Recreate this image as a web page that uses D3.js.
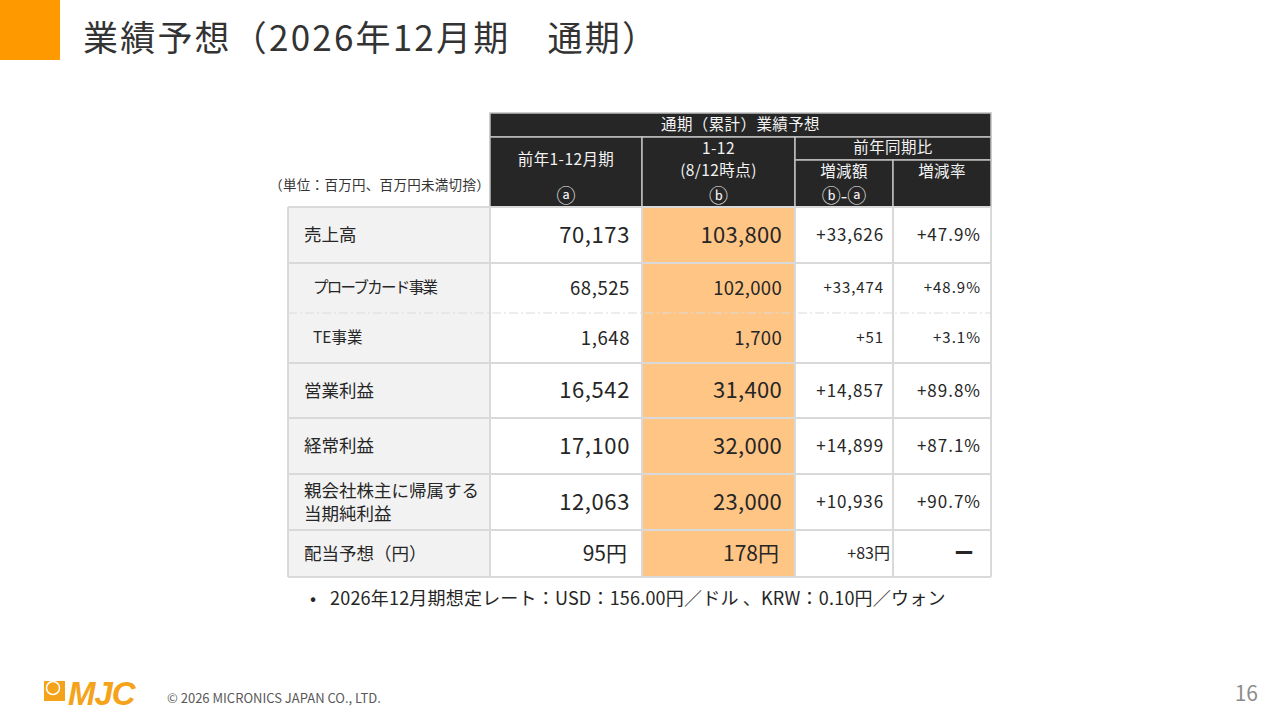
<!DOCTYPE html>
<html lang="ja">
<head>
<meta charset="utf-8">
<script src="https://cdn.jsdelivr.net/npm/d3@7"></script>
<style>
  html, body { margin: 0; padding: 0; background: #fff; }
  svg { display: block; font-family: "Noto Sans CJK JP", "Noto Sans", sans-serif; }
</style>
</head>
<body>
<div class="slide"></div>
<script>
// ---- data ----
const rowLabels = ["売上高", "プローブカード事業", "TE事業", "営業利益", "経常利益", "親会社株主に帰属する\n当期純利益", "配当予想（円）"];
const rowLevel = [0, 1, 1, 0, 0, 0, 0];          // 1 = segment breakdown
const prevYear = [70173, 68525, 1648, 16542, 17100, 12063, 95];
const forecast = [103800, 102000, 1700, 31400, 32000, 23000, 178];
const change = [33626, 33474, 51, 14857, 14899, 10936, 83];
const changeRate = [47.9, 48.9, 3.1, 89.8, 87.1, 90.7, null];
const unitYen = [false, false, false, false, false, false, true];

const title = "業績予想（2026年12月期\u3000通期）";
const unitNote = "（単位：百万円、百万円未満切捨）";
const rateNote = "2026年12月期想定レート：USD：156.00円／ドル 、KRW：0.10円／ウォン";
const copyright = "© 2026 MICRONICS JAPAN CO., LTD.";
const pageNo = "16";

// ---- layout ----
const width = 1280;
const height = 720;
const cols = ["label", "prev", "fcst", "diff", "rate"];
const colX = d3.scaleOrdinal().domain(cols).range([288, 490, 642, 795, 893]);
const colW = d3.scaleOrdinal().domain(cols).range([202, 152, 153, 98, 98]);
const rowWeights = [56, 50, 50, 55, 56, 56, 47];
const cum = [0, ...d3.cumsum(rowWeights)];
const y = d3.scaleLinear().domain([0, d3.sum(rowWeights)]).range([207, 577]);

const orange = "#ff9900";
const grid = "#d9d9d9";
const dark = "#262626";

const svg = d3.select(".slide")
  .append("svg")
  .attr("width", width)
  .attr("height", height);

// title block
svg.append("rect").attr("x", 0).attr("y", 0).attr("width", 60).attr("height", 60).attr("fill", orange);
svg.append("text")
  .attr("x", 83).attr("y", 51)
  .attr("font-size", 35)
  .attr("letter-spacing", 2.2)
  .attr("fill", "#333")
  .text(title);

// ---- header ----
const head = svg.append("g").attr("class", "header");
const hx = k => colX(k);
const hw = k => colW(k);
const headCells = [
  { x: hx("prev"), w: hw("prev") + hw("fcst") + hw("diff") + hw("rate"), y0: 113, y1: 137,
    lines: [{ t: "通期（累計）業績予想", y: 125 }] },
  { x: hx("prev"), w: hw("prev"), y0: 137, y1: 207,
    lines: [{ t: "前年1-12月期", y: 160 }, { t: "ⓐ", y: 196, big: true }] },
  { x: hx("fcst"), w: hw("fcst"), y0: 137, y1: 207,
    lines: [{ t: "1-12", y: 149 }, { t: "(8/12時点)", y: 171 }, { t: "ⓑ", y: 196, big: true }] },
  { x: hx("diff"), w: hw("diff") + hw("rate"), y0: 137, y1: 160,
    lines: [{ t: "前年同期比", y: 148 }] },
  { x: hx("diff"), w: hw("diff"), y0: 160, y1: 207,
    lines: [{ t: "増減額", y: 172 }, { t: "ⓑ-ⓐ", y: 196, big: true }] },
  { x: hx("rate"), w: hw("rate"), y0: 160, y1: 207,
    lines: [{ t: "増減率", y: 172 }] }
];

head.selectAll("rect")
  .data(headCells)
  .enter().append("rect")
  .attr("x", d => d.x).attr("y", d => d.y0)
  .attr("width", d => d.w).attr("height", d => d.y1 - d.y0)
  .attr("fill", dark)
  .attr("stroke", "#bfbfbf")
  .attr("stroke-width", 1.5);

head.selectAll("g.hc")
  .data(headCells)
  .enter().append("g").attr("class", "hc")
  .each(function(d) {
    d3.select(this).selectAll("text")
      .data(d.lines)
      .enter().append("text")
      .attr("x", d.x + d.w / 2)
      .attr("y", l => l.y)
      .attr("dy", "0.35em")
      .attr("text-anchor", "middle")
      .attr("font-size", l => (l.big ? 19 : 15.5))
      .attr("letter-spacing", l => (l.big ? 0 : 0.4))
      .attr("fill", "#f2f2f2")
      .text(l => l.t);
  });

svg.append("text")
  .attr("x", 490).attr("y", 185)
  .attr("dy", "0.35em")
  .attr("text-anchor", "end")
  .attr("font-size", 13.5)
  .attr("letter-spacing", 0.3)
  .attr("fill", "#333")
  .text(unitNote);

// ---- body ----
const body = svg.append("g").attr("class", "body");
const rows = rowLabels.map((label, i) => ({
  label, i, level: rowLevel[i],
  y0: y(cum[i]), y1: y(cum[i + 1]),
  prev: prevYear[i], fcst: forecast[i], diff: change[i], rate: changeRate[i], yen: unitYen[i]
}));

const fill = { label: "#f2f2f2", prev: "#fff", fcst: "#ffc585", diff: "#fff", rate: "#fff" };

rows.forEach(r => {
  const g = body.append("g");
  g.selectAll("rect")
    .data(cols)
    .enter().append("rect")
    .attr("x", k => colX(k)).attr("y", r.y0)
    .attr("width", k => colW(k)).attr("height", r.y1 - r.y0)
    .attr("fill", k => fill[k]);
});

// grid lines
const vEdges = [...cols.map(k => colX(k)), colX("rate") + colW("rate")];
body.selectAll("line.v")
  .data(vEdges)
  .enter().append("line").attr("class", "v")
  .attr("x1", d => d).attr("x2", d => d)
  .attr("y1", y(0)).attr("y2", y(cum[cum.length - 1]))
  .attr("stroke", grid).attr("stroke-width", 2);

body.selectAll("line.h")
  .data(cum)
  .enter().append("line").attr("class", "h")
  .attr("x1", vEdges[0]).attr("x2", vEdges[vEdges.length - 1])
  .attr("y1", d => y(d)).attr("y2", d => y(d))
  .attr("stroke", (d, i) => (i === 2 ? "#dcdcdc" : grid))
  .attr("stroke-width", (d, i) => (i === 2 ? 1.2 : 2))
  .attr("stroke-dasharray", (d, i) => (i === 2 ? "9,3,2,3" : null));

// labels
const fmt = d3.format(",");
const fmtDiff = d3.format("+,");
const fmtRate = d3.format("+.1f");
const katakana = /[ァ-ヶー]/;

const lbl = body.selectAll("text.label")
  .data(rows)
  .enter().append("text").attr("class", "label")
  .attr("x", d => colX("label") + (d.level ? 25 : 16))
  .attr("y", d => (d.y0 + d.y1) / 2)
  .attr("font-size", d => (d.level ? 15.5 : 17.5))
  .attr("letter-spacing", d => (katakana.test(d.label) ? -1.7 : 0))
  .attr("fill", "#262626");

lbl.each(function(d) {
  const parts = d.label.split("\n");
  d3.select(this).selectAll("tspan")
    .data(parts)
    .enter().append("tspan")
    .attr("x", colX("label") + (d.level ? 25 : 16))
    .attr("dy", (p, j) => (j === 0 ? `${0.35 - (parts.length - 1) * 0.65}em` : "1.3em"))
    .text(p => p);
});

// values
const valueCols = [
  { key: "prev", pad: 12, ls: 0.6, size: r => (r.level ? 18.5 : 22), text: r => fmt(r.prev) + (r.yen ? "円" : "") },
  { key: "fcst", pad: 13, ls: 0.3, size: r => (r.level ? 18.5 : 22), text: r => fmt(r.fcst) + (r.yen ? "円" : "") },
  { key: "diff", pad: 9, ls: 0.9, size: r => (r.level ? 15 : 17), text: r => fmtDiff(r.diff) + (r.yen ? "円" : "") },
  { key: "rate", pad: 10, ls: 1, size: r => (r.level ? 15 : 17), text: r => (r.rate == null ? "ー" : fmtRate(r.rate) + "%") }
];

valueCols.forEach(c => {
  body.selectAll(`text.v-${c.key}`)
    .data(rows)
    .enter().append("text").attr("class", `v-${c.key}`)
    .attr("x", r => {
      if (c.key === "rate" && r.rate == null) return colX(c.key) + colW(c.key) / 2 + 22;
      if (c.key === "diff" && r.yen) return colX(c.key) + colW(c.key) - 3;
      return colX(c.key) + colW(c.key) - c.pad - (r.yen && c.key !== "diff" ? 3 : 0);
    })
    .attr("y", r => (r.y0 + r.y1) / 2)
    .attr("dy", "0.36em")
    .attr("text-anchor", r => (c.key === "rate" && r.rate == null ? "middle" : "end"))
    .attr("font-size", r => (c.key === "rate" && r.rate == null ? 20 : r.yen ? c.size(r) - 1 : c.size(r)))
    .attr("letter-spacing", r => (r.yen ? 0 : c.ls))
    .attr("font-weight", r => (c.key === "rate" && r.rate == null ? "bold" : null))
    .attr("fill", "#262626")
    .text(r => c.text(r));
});

// ---- note ----
svg.append("text")
  .attr("x", 310).attr("y", 599)
  .attr("dy", "0.35em")
  .attr("font-size", 18)
  .attr("fill", "#262626")
  .text("•");
svg.append("text")
  .attr("x", 330).attr("y", 599)
  .attr("dy", "0.35em")
  .attr("font-size", 18)
  .attr("letter-spacing", 0.2)
  .attr("fill", "#262626")
  .text(rateNote);

// ---- footer ----
const logo = svg.append("g").attr("class", "logo");
logo.append("rect").attr("x", 44).attr("y", 681).attr("width", 21).attr("height", 20).attr("fill", "#f5a31a");
logo.append("circle").attr("cx", 53).attr("cy", 688).attr("r", 6.5)
  .attr("fill", "#f5a31a").attr("stroke", "#fff").attr("stroke-width", 1.5);
logo.append("text")
  .attr("x", 68).attr("y", 705)
  .attr("font-family", "Liberation Sans, Arial, sans-serif")
  .attr("font-size", 33)
  .attr("font-weight", "bold")
  .attr("font-style", "italic")
  .attr("letter-spacing", -1)
  .attr("fill", "#f5a31a")
  .text("MJC");

svg.append("text")
  .attr("x", 167).attr("y", 703)
  .attr("font-size", 13)
  .attr("fill", "#595959")
  .text(copyright);

svg.append("text")
  .attr("x", 1258).attr("y", 701)
  .attr("text-anchor", "end")
  .attr("font-size", 21)
  .attr("fill", "#8c8c8c")
  .text(pageNo);
</script>
</body>
</html>
